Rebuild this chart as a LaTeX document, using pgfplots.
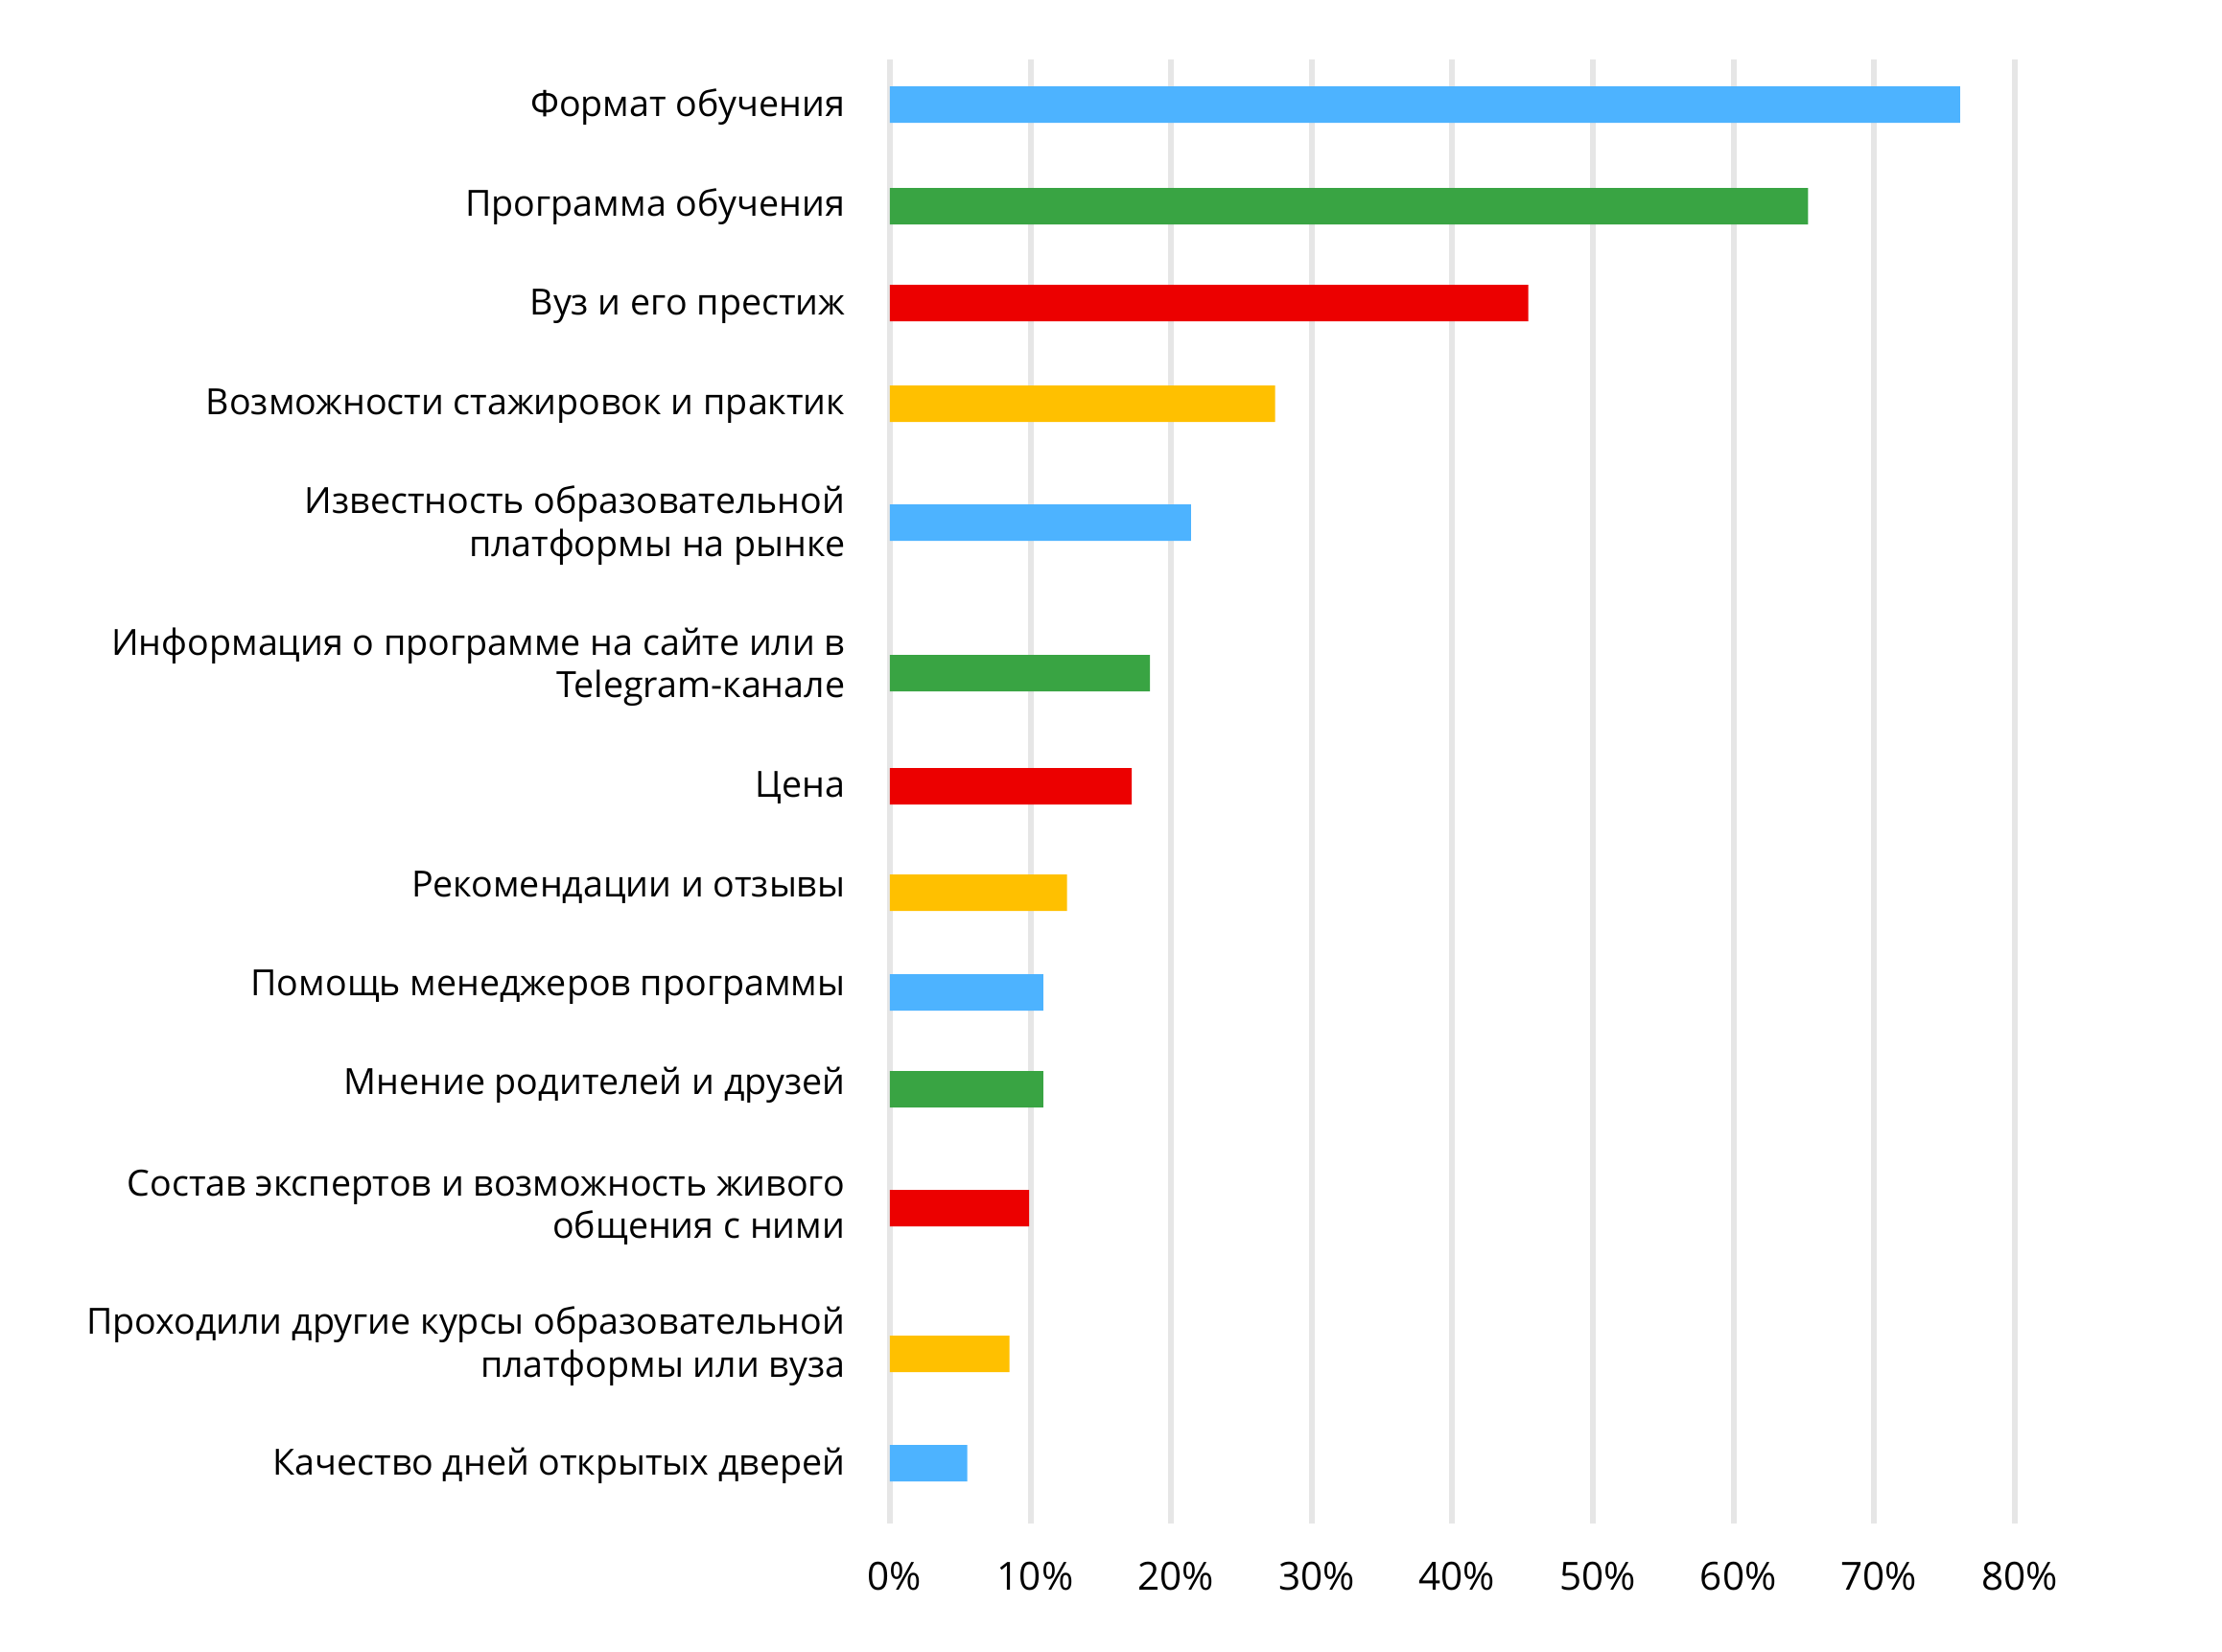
\documentclass[border=0pt]{standalone}
\usepackage{fontspec}
\setmainfont{Open Sans}
\usepackage{pgfplots}
\pgfplotsset{compat=1.18}
\definecolor{cblue}{HTML}{4DB3FF}
\definecolor{cgreen}{HTML}{39A443}
\definecolor{cred}{HTML}{EC0000}
\definecolor{cyellow}{HTML}{FFC000}
\definecolor{gridgray}{HTML}{E6E6E6}
\begin{document}
\begin{tikzpicture}
\useasboundingbox (0,0) rectangle (23.17cm,-17.23cm);
\begin{axis}[
  at={(9.28cm,-15.89cm)}, anchor=south west,
  scale only axis, width=11.73cm, height=15.27cm,
  xmin=0, xmax=80, ymin=-1589, ymax=-62,
  axis line style={draw=none},
  xtick={0,10,...,80},
  xticklabels={0\%,10\%,20\%,30\%,40\%,50\%,60\%,70\%,80\%},
  ytick={-1529,-1404,-1259,-1132,-1030,-926,-822,-696,-548,-424,-320,-216,-112},
  yticklabels={
    Качество дней открытых дверей,
    {Проходили другие курсы образовательной\\платформы или вуза},
    {Состав экспертов и возможность живого\\общения с ними},
    Мнение родителей и друзей,
    Помощь менеджеров программы,
    Рекомендации и отзывы,
    Цена,
    {Информация о программе на сайте или в\\Telegram-канале},
    {Известность образовательной\\платформы на рынке},
    Возможности стажировок и практик,
    Вуз и его престиж,
    Программа обучения,
    Формат обучения},
  major tick length=0pt,
  tick style={draw=none},
  xmajorgrids, ymajorgrids=false,
  grid style={color=gridgray, line width=0.06cm},
  xticklabel style={font=\fontsize{11.5}{12.5}\selectfont, inner sep=0pt, anchor=north, yshift=-0.39cm, xshift=0.05cm},
  yticklabel style={font=\fontsize{10.7}{12.6}\selectfont, align=right, inner sep=0pt, xshift=-0.46cm},
  xbar, bar width=0.38cm,
]
\addplot[draw=none, fill=cblue, bar shift=0pt] coordinates {(76.1,-109) (21.4,-545) (10.9,-1035) (5.5,-1526)};
\addplot[draw=none, fill=cgreen, bar shift=0pt] coordinates {(65.3,-215) (18.5,-702) (10.9,-1136)};
\addplot[draw=none, fill=cred, bar shift=0pt] coordinates {(45.4,-316) (17.2,-820) (9.9,-1260)};
\addplot[draw=none, fill=cyellow, bar shift=0pt] coordinates {(27.4,-421) (12.6,-931) (8.5,-1412)};
\end{axis}
\end{tikzpicture}
\end{document}
